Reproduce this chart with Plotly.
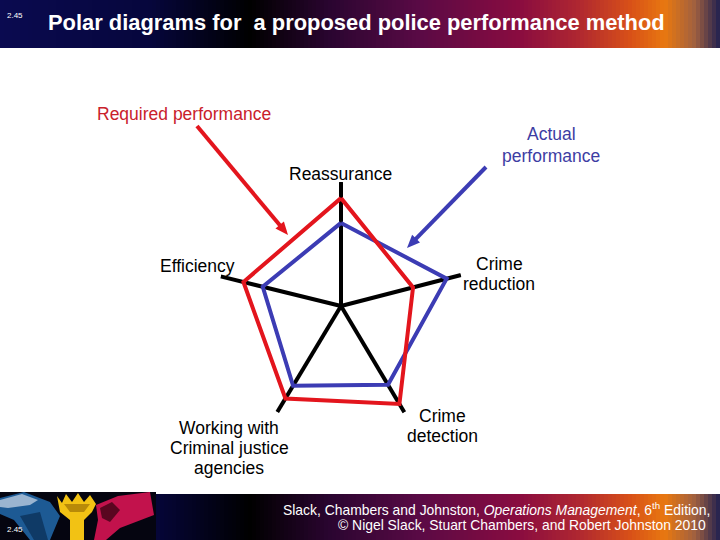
import math
import plotly.graph_objects as go

# ---------------- data ----------------
categories = ["Reassurance", "Crime reduction", "Crime detection",
              "Working with Criminal justice agencies", "Efficiency"]
axis_angles = [90, 14.5, -59.2, -121.0, 166.2]   # direction of each spoke (deg)
axis_length = [10, 10, 10, 10, 10]
required_perf = [8.7, 6.0, 9.2, 8.7, 8.1]
actual_perf = [6.7, 8.8, 7.4, 7.5, 6.5]

W, H = 720, 540
RED = "#e3151d"
BLUE = "#3c3cb4"
RED_TXT = "#c9212b"
BLUE_TXT = "#3d3da3"
FONT = "Liberation Sans, Arial, sans-serif"


def px(x):
    return x / W


def py(y):
    return 1 - y / H


fig = go.Figure()

# spokes
for ang, ln in zip(axis_angles, axis_length):
    fig.add_trace(go.Scatterpolar(r=[0, ln], theta=[ang, ang], mode="lines",
                                  line=dict(color="black", width=4),
                                  hoverinfo="skip", showlegend=False))

# actual (blue) and required (red) polygons
fig.add_trace(go.Scatterpolar(r=actual_perf + actual_perf[:1],
                              theta=axis_angles + axis_angles[:1],
                              mode="lines", line=dict(color=BLUE, width=4),
                              name="Actual performance", showlegend=False))
fig.add_trace(go.Scatterpolar(r=required_perf + required_perf[:1],
                              theta=axis_angles + axis_angles[:1],
                              mode="lines", line=dict(color=RED, width=4),
                              name="Required performance", showlegend=False))

# polar placement: centre (341,306), radius 124 px
cx, cy, R = 341, 306, 124
fig.update_layout(
    polar=dict(
        domain=dict(x=[px(cx - R), px(cx + R)], y=[py(cy + R), py(cy - R)]),
        bgcolor="rgba(0,0,0,0)",
        radialaxis=dict(visible=False, range=[0, 10], showgrid=False),
        angularaxis=dict(visible=False, rotation=0, direction="counterclockwise",
                         showgrid=False, thetaunit="degrees"),
    )
)

# ---------------- gradient bars ----------------
stops = [(0, (10, 10, 80)), (150, (6, 6, 60)), (250, (0, 0, 0)),
         (330, (42, 5, 48)), (420, (90, 10, 69)), (520, (138, 12, 64)),
         (580, (176, 40, 48)), (630, (216, 80, 24)), (665, (232, 120, 16)),
         (695, (160, 96, 64)), (720, (32, 32, 80))]


def grad_color(x):
    for (x0, c0), (x1, c1) in zip(stops[:-1], stops[1:]):
        if x0 <= x <= x1:
            t = (x - x0) / (x1 - x0) if x1 > x0 else 0
            c = [round(a + (b - a) * t) for a, b in zip(c0, c1)]
            return "rgb(%d,%d,%d)" % tuple(c)
    return "rgb(32,32,80)"


shapes = []
step = 4
for x in range(0, W, step):
    col = grad_color(x + step / 2)
    shapes.append(dict(type="rect", xref="paper", yref="paper",
                       x0=px(x), x1=px(x + step + 0.5), y0=py(48), y1=py(0),
                       fillcolor=col, line=dict(width=0), layer="below"))
    if x >= 152:
        shapes.append(dict(type="rect", xref="paper", yref="paper",
                           x0=px(x), x1=px(x + step + 0.5), y0=py(540), y1=py(494),
                           fillcolor=col, line=dict(width=0), layer="below"))

# footer picture (paint pouring) approximation
shapes.append(dict(type="rect", xref="paper", yref="paper", x0=px(0), x1=px(156),
                   y0=py(540), y1=py(492), fillcolor="#050510",
                   line=dict(width=0), layer="below"))


def path(points):
    return "M " + " L ".join("%f,%f" % (px(a), py(b)) for a, b in points) + " Z"


def add_path(points, color):
    shapes.append(dict(type="path", xref="paper", yref="paper", path=path(points),
                       fillcolor=color, line=dict(width=0), layer="below"))


add_path([(0, 498), (24, 492), (50, 502), (60, 516), (50, 540), (30, 540), (14, 520), (0, 514)], "#1d5a94")
add_path([(0, 500), (22, 494), (38, 500), (30, 505), (8, 508), (0, 507)], "#9ab4d0")
add_path([(20, 516), (40, 512), (48, 540), (34, 540)], "#0f3a66")
add_path([(57, 496), (62, 503), (66, 494), (72, 502), (78, 493),
          (84, 502), (90, 495), (96, 504), (92, 512), (84, 520),
          (84, 540), (70, 540), (70, 520), (60, 512)], "#f2c214")
add_path([(64, 504), (90, 504), (84, 512), (70, 512)], "#b88a08")
add_path([(96, 505), (118, 496), (150, 492), (154, 515),
          (120, 528), (106, 540), (94, 540), (98, 520)], "#c2124c")
add_path([(100, 508), (112, 502), (120, 510), (110, 522), (102, 518)], "#5a0620")


def add_arrow(tail, tip, color, width=4, head_len=13, head_half=5.5):
    dx, dy = tip[0] - tail[0], tip[1] - tail[1]
    L = math.hypot(dx, dy)
    ux, uy = dx / L, dy / L
    nx, ny = -uy, ux
    bx, by = tip[0] - head_len * ux, tip[1] - head_len * uy
    shapes.append(dict(type="line", xref="paper", yref="paper",
                       x0=px(tail[0]), y0=py(tail[1]), x1=px(bx + ux), y1=py(by + uy),
                       line=dict(color=color, width=width)))
    add_path([(bx + head_half * nx, by + head_half * ny), tip,
              (bx - head_half * nx, by - head_half * ny)], color)
    shapes[-1]["layer"] = "above"


add_arrow((197, 126), (288, 235), RED)
add_arrow((486, 167), (407, 248), BLUE)

fig.update_layout(shapes=shapes)

# ---------------- text ----------------
ann = []


def txt(x, y, s, size, color="black", xanchor="center", **kw):
    ann.append(dict(x=px(x), y=py(y), xref="paper", yref="paper", text=s,
                    showarrow=False, xanchor=xanchor, yanchor="middle",
                    font=dict(family=FONT, size=size, color=color), **kw))


txt(46, 22, "<b>Polar diagrams for\u00a0 a proposed police performance method</b>", 21.9,
    "white", xanchor="left")
txt(5, 15, "2.45", 8, "white", xanchor="left")
txt(5, 529, "2.45", 8, "white", xanchor="left")
txt(712, 509, "Slack, Chambers and Johnston, <i>Operations Management</i>, 6<sup>th</sup> Edition,",
    13.9, "white", xanchor="right")
txt(708, 525, "© Nigel Slack, Stuart Chambers, and Robert Johnston 2010", 13.9,
    "white", xanchor="right")

txt(184, 114, "Required performance", 17.5, RED_TXT)
txt(551, 134, "Actual", 17.5, BLUE_TXT)
txt(551, 156, "performance", 17.5, BLUE_TXT)

# axis labels
txt(340, 174, categories[0], 17.5)
txt(499, 264, "Crime", 17.5)
txt(499, 284, "reduction", 17.5)
txt(442, 416, "Crime", 17.5)
txt(442, 436, "detection", 17.5)
txt(229, 428, "Working with", 17.5)
txt(229, 448, "Criminal justice", 17.5)
txt(229, 468, "agencies", 17.5)
txt(197, 266, categories[4], 17.5)

fig.update_layout(annotations=ann, width=W, height=H,
                  margin=dict(l=0, r=0, t=0, b=0),
                  paper_bgcolor="white", plot_bgcolor="white",
                  showlegend=False)

fig.write_html("out.html", config={"displayModeBar": False},
               post_script="document.body.style.margin='0';document.body.style.padding='0';")
